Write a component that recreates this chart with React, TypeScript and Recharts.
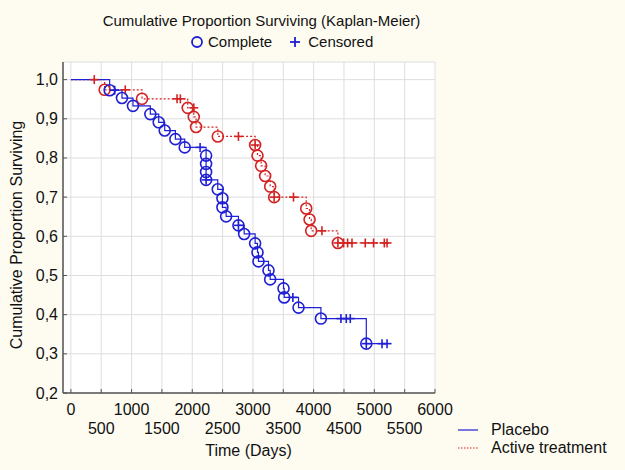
import React from "react";
import { ComposedChart, Line, XAxis, YAxis, CartesianGrid } from "recharts";

// status: 1 = complete (event), 0 = censored, -1 = start of curve
const placeboTimes = [0, 639, 721, 842, 1023, 1309, 1447, 1546, 1722, 1876, 2129, 2228, 2228, 2228, 2228, 2228, 2420, 2497, 2497, 2558, 2761, 2761, 2855, 3036, 3075, 3091, 3256, 3284, 3504, 3515, 3658, 3751, 4120, 4450, 4538, 4604, 4868, 4868, 5127, 5210];
const placeboSurvival = [1, 0.973, 0.973, 0.953, 0.933, 0.912, 0.891, 0.87, 0.848, 0.827, 0.827, 0.806, 0.785, 0.764, 0.744, 0.744, 0.72, 0.697, 0.674, 0.651, 0.628, 0.628, 0.606, 0.582, 0.559, 0.536, 0.513, 0.49, 0.467, 0.444, 0.444, 0.418, 0.39, 0.39, 0.39, 0.39, 0.326, 0.326, 0.326, 0.326];
const placeboStatus = [-1, 1, 0, 1, 1, 1, 1, 1, 1, 1, 0, 1, 1, 1, 1, 0, 1, 1, 1, 1, 1, 0, 1, 1, 1, 1, 1, 1, 1, 1, 0, 1, 1, 0, 0, 0, 1, 0, 0, 0];

const activeTimes = [0, 385, 556, 896, 1172, 1749, 1804, 1925, 2025, 2025, 2063, 2421, 2761, 3036, 3036, 3075, 3135, 3201, 3284, 3350, 3350, 3668, 3878, 3933, 3960, 4137, 4400, 4400, 4494, 4560, 4632, 4851, 4988, 5165, 5210];
const activeSurvival = [1, 1, 0.974, 0.974, 0.951, 0.951, 0.951, 0.928, 0.928, 0.905, 0.879, 0.855, 0.855, 0.833, 0.833, 0.806, 0.78, 0.754, 0.727, 0.7, 0.7, 0.7, 0.671, 0.643, 0.614, 0.614, 0.583, 0.583, 0.583, 0.583, 0.583, 0.583, 0.583, 0.583, 0.583];
const activeStatus = [-1, 0, 1, 0, 1, 0, 0, 1, 0, 1, 1, 1, 0, 1, 0, 1, 1, 1, 1, 1, 0, 0, 1, 1, 1, 0, 1, 0, 0, 0, 0, 0, 0, 0, 0];

const xTicks = [0, 500, 1000, 1500, 2000, 2500, 3000, 3500, 4000, 4500, 5000, 5500, 6000];
const yTicks = [0.2, 0.3, 0.4, 0.5, 0.6, 0.7, 0.8, 0.9, 1.0];

const BLUE = "#1f1fd4";
const RED = "#d42222";
const AXIS = "#555555";
const FONT = "'Liberation Sans', Arial, sans-serif";

const toRows = (t: number[], s: number[], st: number[]) =>
  t.map((time, i) => ({ time, surv: s[i], status: st[i] }));

const placeboRows = toRows(placeboTimes, placeboSurvival, placeboStatus);
const activeRows = toRows(activeTimes, activeSurvival, activeStatus);

const makeDot = (color: string) => (props: any) => {
  const { cx, cy, payload, index } = props;
  if (payload.status === 1) {
    return <circle key={index} cx={cx} cy={cy} r={5.5} fill="none" stroke={color} strokeWidth={1.6} />;
  }
  if (payload.status === 0) {
    return (
      <g key={index} stroke={color} strokeWidth={1.6}>
        <line x1={cx - 4.5} y1={cy} x2={cx + 4.5} y2={cy} />
        <line x1={cx} y1={cy - 4.5} x2={cx} y2={cy + 4.5} />
      </g>
    );
  }
  return <g key={index} />;
};

const BottomTick = (props: any) => {
  const { x, y, payload } = props;
  const upper = payload.value % 1000 === 0;
  return (
    <g>
      <line x1={x} y1={y} x2={x} y2={y - 4} stroke={AXIS} />
      <text x={x} y={y + (upper ? 22 : 41)} textAnchor="middle" fontSize={16} fontFamily={FONT} fill="#111">
        {payload.value}
      </text>
    </g>
  );
};

const TopTick = (props: any) => {
  const { x, y } = props;
  return <line x1={x} y1={y} x2={x} y2={y + 4} stroke={AXIS} />;
};

const LeftTick = (props: any) => {
  const { x, y, payload } = props;
  return (
    <g>
      <line x1={x} y1={y} x2={x + 4} y2={y} stroke={AXIS} />
      <text x={x - 5} y={y + 5.5} textAnchor="end" fontSize={16} fontFamily={FONT} fill="#111">
        {payload.value.toFixed(1).replace(".", ",")}
      </text>
    </g>
  );
};

const RightTick = (props: any) => {
  const { x, y } = props;
  return <line x1={x} y1={y} x2={x - 4} y2={y} stroke={AXIS} />;
};

export default function App() {
  return (
    <div style={{ position: "absolute", left: 0, top: 0, width: 625, height: 470, background: "#fefcf1", fontFamily: FONT, color: "#111" }}>
      <ComposedChart width={625} height={470} margin={{ top: 62, right: 190, bottom: 0, left: 0 }}>
        <CartesianGrid fill="#ffffff" stroke="#dedede" />
        <XAxis
          dataKey="time"
          type="number"
          domain={[-130, 6000]}
          ticks={xTicks}
          interval={0}
          height={77}
          tickSize={0}
          tickMargin={0}
          tickLine={false}
          axisLine={{ stroke: AXIS, strokeWidth: 1.5 }}
          tick={<BottomTick />}
          allowDataOverflow
        />
        <XAxis
          xAxisId="top"
          orientation="top"
          dataKey="time"
          type="number"
          domain={[-130, 6000]}
          ticks={xTicks}
          interval={0}
          height={0}
          tickSize={0}
          tickMargin={0}
          tickLine={false}
          axisLine={{ stroke: AXIS, strokeWidth: 1.5 }}
          tick={<TopTick />}
          allowDataOverflow
        />
        <YAxis
          type="number"
          domain={[0.2, 1.045]}
          ticks={yTicks}
          interval={0}
          width={63}
          tickSize={0}
          tickMargin={0}
          tickLine={false}
          axisLine={{ stroke: AXIS, strokeWidth: 1.5 }}
          tick={<LeftTick />}
          allowDataOverflow
        />
        <YAxis
          yAxisId="right"
          orientation="right"
          type="number"
          domain={[0.2, 1.045]}
          ticks={yTicks}
          interval={0}
          width={0}
          tickSize={0}
          tickMargin={0}
          tickLine={false}
          axisLine={{ stroke: AXIS, strokeWidth: 1.5 }}
          tick={<RightTick />}
          allowDataOverflow
        />
        <Line
          data={activeRows}
          dataKey="surv"
          type="stepAfter"
          stroke={RED}
          strokeWidth={1.2}
          strokeDasharray="2 2"
          dot={makeDot(RED)}
          activeDot={false}
          isAnimationActive={false}
        />
        <Line
          data={placeboRows}
          dataKey="surv"
          type="stepAfter"
          stroke={BLUE}
          strokeWidth={1.2}
          dot={makeDot(BLUE)}
          activeDot={false}
          isAnimationActive={false}
        />
      </ComposedChart>

      <div style={{ position: "absolute", left: 0, width: 523, top: 12, textAlign: "center", fontSize: 15, whiteSpace: "nowrap" }}>
        Cumulative Proportion Surviving (Kaplan-Meier)
      </div>
      <div style={{ position: "absolute", left: 190, top: 33, fontSize: 15, whiteSpace: "nowrap", display: "flex", alignItems: "center" }}>
        <svg width={14} height={14} style={{ marginRight: 4 }}>
          <circle cx={7} cy={7} r={5} fill="none" stroke={BLUE} strokeWidth={1.8} />
        </svg>
        <span>Complete</span>
        <svg width={14} height={14} style={{ marginLeft: 16, marginRight: 6 }}>
          <line x1={2} y1={7} x2={12} y2={7} stroke={BLUE} strokeWidth={1.8} />
          <line x1={7} y1={2} x2={7} y2={12} stroke={BLUE} strokeWidth={1.8} />
        </svg>
        <span>Censored</span>
      </div>

      <div style={{ position: "absolute", left: 17, top: 235, width: 0, height: 0 }}>
        <div style={{ position: "absolute", transform: "translate(-50%, -50%) rotate(-90deg)", fontSize: 16, whiteSpace: "nowrap" }}>
          Cumulative Proportion Surviving
        </div>
      </div>
      <div style={{ position: "absolute", left: 0, width: 497, top: 442, textAlign: "center", fontSize: 16, whiteSpace: "nowrap" }}>
        Time (Days)
      </div>

      <div style={{ position: "absolute", left: 457, top: 421, fontSize: 16, lineHeight: "18px", whiteSpace: "nowrap" }}>
        <div style={{ display: "flex", alignItems: "center" }}>
          <svg width={26} height={10} style={{ marginRight: 8 }}>
            <line x1={1} y1={5} x2={21} y2={5} stroke={BLUE} strokeWidth={1.2} />
          </svg>
          <span>Placebo</span>
        </div>
        <div style={{ display: "flex", alignItems: "center" }}>
          <svg width={26} height={10} style={{ marginRight: 8 }}>
            <line x1={1} y1={5} x2={21} y2={5} stroke={RED} strokeWidth={1.2} strokeDasharray="1.5 1.5" />
          </svg>
          <span>Active treatment</span>
        </div>
      </div>
    </div>
  );
}
